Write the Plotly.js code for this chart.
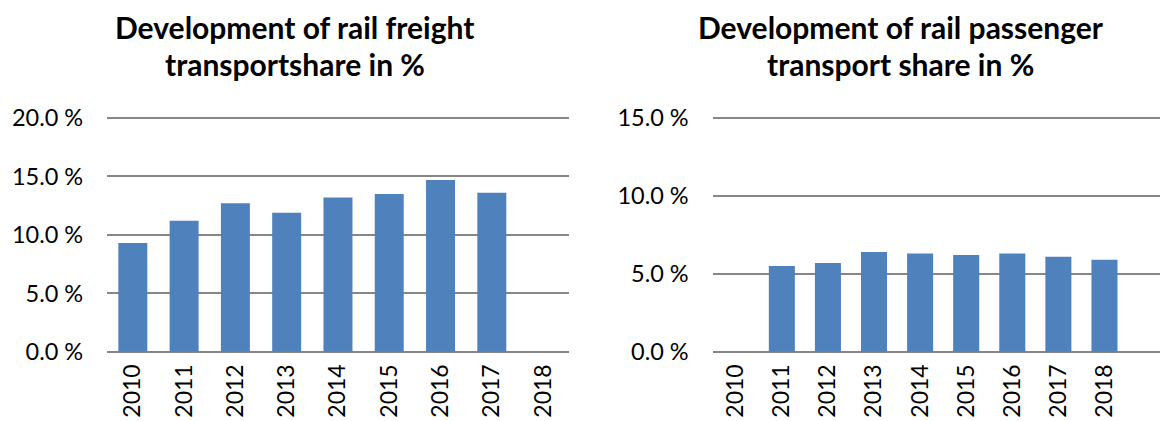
<!DOCTYPE html>
<html>
<head>
<meta charset="utf-8">
<script src="https://cdn.plot.ly/plotly-3.0.1.min.js"></script>
<style>html,body{margin:0;padding:0;background:#fff;}#chart{width:1160px;height:421px;}</style>
</head>
<body>
<div id="chart"></div>
<script>
// Data
const years = ["2010", "2011", "2012", "2013", "2014", "2015", "2016", "2017", "2018"];
const freightShare = [9.3, 11.2, 12.7, 11.9, 13.2, 13.5, 14.7, 13.6, null];
const passengerShare = [null, 5.5, 5.7, 6.4, 6.3, 6.2, 6.3, 6.1, 5.9];
const freightTicks = [0, 5, 10, 15, 20];
const passengerTicks = [0, 5, 10, 15];
const freightTitle = ["Development of rail freight", "transportshare in %"];
const passengerTitle = ["Development of rail passenger", "transport share in %"];

const FONT = "Lato, 'Open Sans', sans-serif";
const barColor = "#4F81BD";
const gridColor = "#868686";

const traces = [
  {type: "bar", x: years, y: freightShare, xaxis: "x", yaxis: "y",
   marker: {color: barColor}, hoverinfo: "skip", showlegend: false},
  {type: "bar", x: years, y: passengerShare, xaxis: "x2", yaxis: "y2",
   marker: {color: barColor}, hoverinfo: "skip", showlegend: false}
];

// plot area padded by 3px top/bottom so edge gridlines are drawn
const yDom = [(421 - 354.7) / 421, (421 - 115) / 421];
const tickFont = {family: FONT, size: 23.5, color: "#000"};
const xTickFont = {family: FONT, size: 23, color: "#000"};

function yAxis(ticks, anchor) {
  const top = ticks[ticks.length - 1];
  const pad = top * 3 / 233.7;
  return {
    domain: yDom, anchor: anchor, range: [-pad, top + pad],
    tickvals: ticks, ticktext: ticks.map(v => v.toFixed(1) + " %"),
    showgrid: true, gridcolor: gridColor, gridwidth: 2,
    zeroline: false, showline: false, ticks: "",
    ticklabelstandoff: 23, tickfont: tickFont, fixedrange: true
  };
}
function xAxis(domain, range, anchor) {
  return {
    domain: domain, anchor: anchor, type: "category", range: range,
    categoryorder: "array", categoryarray: years,
    tickangle: -90, showgrid: false, zeroline: false, showline: false, ticks: "",
    ticklabelstandoff: 4, tickfont: xTickFont, fixedrange: true
  };
}

const titleFont = {family: FONT, size: 30, color: "#000", weight: "bold"};
function titleAnn(text, x, ypx) {
  return {text: "<b>" + text + "</b>", xref: "paper", yref: "paper",
          x: x, y: 1 - ypx / 421, xanchor: "center", yanchor: "middle",
          showarrow: false, font: titleFont};
}

const layout = {
  width: 1160, height: 421,
  margin: {l: 0, r: 0, t: 0, b: 0},
  paper_bgcolor: "#fff", plot_bgcolor: "rgba(0,0,0,0)",
  bargap: 0.435,
  xaxis: xAxis([0.0924, 0.4903], [-0.5, 8.5], "y"),
  yaxis: yAxis(freightTicks, "x"),
  xaxis2: xAxis([0.6144, 1.0], [-0.5, 9.205], "y2"),
  yaxis2: yAxis(passengerTicks, "x2"),
  annotations: [
    titleAnn(freightTitle[0], 0.2543, 27),
    titleAnn(freightTitle[1], 0.2543, 64),
    titleAnn(passengerTitle[0], 0.7767, 27),
    titleAnn(passengerTitle[1], 0.7767, 64)
  ]
};

Plotly.newPlot("chart", traces, layout, {staticPlot: true, displayModeBar: false});
</script>
</body>
</html>
